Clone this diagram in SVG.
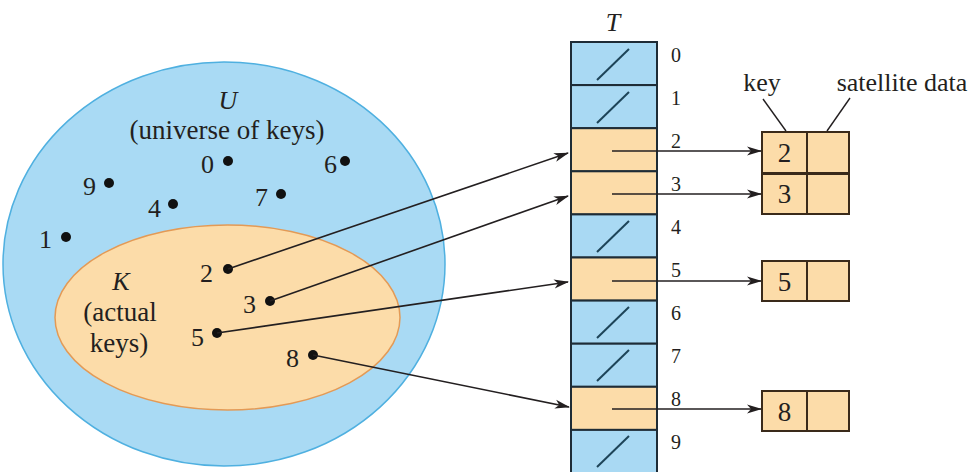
<svg xmlns="http://www.w3.org/2000/svg" width="977" height="472" viewBox="0 0 977 472">
<defs>
<style>
text{font-family:"Liberation Serif","Times New Roman",serif;fill:#231f20}
.lbl{font-size:26px}
.big{font-size:27px}
.it{font-style:italic}
.idx{font-size:20px}
.bd{font-size:27px}
.dot{fill:#111}
.cellB{fill:#a9d9f3;stroke:#1e2c36;stroke-width:2}
.cellO{fill:#fcdca9;stroke:#1e2c36;stroke-width:2}
.slash{stroke:#1d4458;stroke-width:2}
.box{fill:#fcdca9;stroke:#3a2a1a;stroke-width:2}
.ptr{stroke:#231f20;stroke-width:1.6;fill:none}
.lead{stroke:#231f20;stroke-width:1.4;fill:none}
</style>
<marker id="ah" markerWidth="16" markerHeight="10" refX="14" refY="5" orient="auto" markerUnits="userSpaceOnUse">
<path d="M0,0.5 L15,5 L0,9.5 L4,5 Z" fill="#231f20"/>
</marker>
</defs>
<rect width="977" height="472" fill="#fff"/>

<g id="universe">
<ellipse cx="224" cy="264" rx="221" ry="202" fill="#a9daf4" stroke="#4fb0e0" stroke-width="1.5"/>
<text class="lbl it" x="228" y="109" text-anchor="middle">U</text>
<text class="big" x="227" y="139" text-anchor="middle">(universe of keys)</text>
</g>
<g id="actual-keys">
<ellipse cx="227.5" cy="317.5" rx="172.5" ry="92.5" fill="#fcdca9" stroke="#e39a56" stroke-width="1.5"/>
<text class="lbl it" x="121" y="290" text-anchor="middle">K</text>
<text class="big" x="120" y="321" text-anchor="middle">(actual</text>
<text class="big" x="119" y="352" text-anchor="middle">keys)</text>
</g>

<g id="key-0"><circle class="dot" cx="228" cy="161" r="5"/><text class="lbl" x="214" y="173" text-anchor="end">0</text></g>
<g id="key-6"><circle class="dot" cx="345" cy="161" r="5"/><text class="lbl" x="337" y="173" text-anchor="end">6</text></g>
<g id="key-9"><circle class="dot" cx="109" cy="183" r="5"/><text class="lbl" x="96" y="195" text-anchor="end">9</text></g>
<g id="key-7"><circle class="dot" cx="281" cy="194" r="5"/><text class="lbl" x="268" y="206" text-anchor="end">7</text></g>
<g id="key-4"><circle class="dot" cx="173" cy="204" r="5"/><text class="lbl" x="161" y="217" text-anchor="end">4</text></g>
<g id="key-1"><circle class="dot" cx="66" cy="237" r="5"/><text class="lbl" x="52" y="248" text-anchor="end">1</text></g>
<g id="key-2"><circle class="dot" cx="228" cy="269" r="5"/><text class="lbl" x="213" y="282" text-anchor="end">2</text></g>
<g id="key-3"><circle class="dot" cx="270" cy="301" r="5"/><text class="lbl" x="256" y="313" text-anchor="end">3</text></g>
<g id="key-5"><circle class="dot" cx="217" cy="333" r="5"/><text class="lbl" x="204" y="346" text-anchor="end">5</text></g>
<g id="key-8"><circle class="dot" cx="313" cy="355" r="5"/><text class="lbl" x="299" y="367" text-anchor="end">8</text></g>

<g id="table-T">
<text class="lbl it" x="613" y="31" text-anchor="middle">T</text>
<g id="slot-0"><rect class="cellB" x="571" y="42" width="86" height="43.1"/><line class="slash" x1="597" y1="80" x2="629" y2="49"/><text class="idx" x="671" y="62">0</text></g>
<g id="slot-1"><rect class="cellB" x="571" y="85.1" width="86" height="43.1"/><line class="slash" x1="597" y1="123" x2="629" y2="92"/><text class="idx" x="671" y="105">1</text></g>
<g id="slot-2"><rect class="cellO" x="571" y="128.2" width="86" height="43.1"/><text class="idx" x="671" y="148">2</text></g>
<g id="slot-3"><rect class="cellO" x="571" y="171.3" width="86" height="43.1"/><text class="idx" x="671" y="191">3</text></g>
<g id="slot-4"><rect class="cellB" x="571" y="214.4" width="86" height="43.1"/><line class="slash" x1="597" y1="252" x2="629" y2="221"/><text class="idx" x="671" y="234">4</text></g>
<g id="slot-5"><rect class="cellO" x="571" y="257.5" width="86" height="43.1"/><text class="idx" x="671" y="277">5</text></g>
<g id="slot-6"><rect class="cellB" x="571" y="300.6" width="86" height="43.1"/><line class="slash" x1="597" y1="338" x2="629" y2="307"/><text class="idx" x="671" y="320">6</text></g>
<g id="slot-7"><rect class="cellB" x="571" y="343.7" width="86" height="43.1"/><line class="slash" x1="597" y1="381" x2="629" y2="350"/><text class="idx" x="671" y="363">7</text></g>
<g id="slot-8"><rect class="cellO" x="571" y="386.8" width="86" height="43.1"/><text class="idx" x="671" y="406">8</text></g>
<g id="slot-9"><rect class="cellB" x="571" y="429.9" width="86" height="43.1"/><line class="slash" x1="597" y1="467" x2="629" y2="436"/><text class="idx" x="671" y="449">9</text></g>
</g>

<g id="record-2"><rect class="box" x="762" y="132" width="45" height="41"/><rect class="box" x="807" y="132" width="42" height="41"/><text class="bd" x="784.5" y="162" text-anchor="middle">2</text></g>
<g id="record-3"><rect class="box" x="762" y="174" width="45" height="40"/><rect class="box" x="807" y="174" width="42" height="40"/><text class="bd" x="784.5" y="203" text-anchor="middle">3</text></g>
<g id="record-5"><rect class="box" x="762" y="261" width="45" height="40"/><rect class="box" x="807" y="261" width="42" height="40"/><text class="bd" x="784.5" y="291" text-anchor="middle">5</text></g>
<g id="record-8"><rect class="box" x="762" y="391" width="45" height="40"/><rect class="box" x="807" y="391" width="42" height="40"/><text class="bd" x="784.5" y="421" text-anchor="middle">8</text></g>

<g id="legend">
<text class="lbl" x="762" y="91" text-anchor="middle">key</text>
<text class="lbl" x="902" y="91" text-anchor="middle">satellite data</text>
</g>

<g id="connectors">
<line class="lead" x1="763" y1="99" x2="786" y2="131"/>
<line class="lead" x1="850" y1="98" x2="827" y2="131"/>
<line class="ptr" x1="228" y1="269" x2="568" y2="153" marker-end="url(#ah)"/>
<line class="ptr" x1="270" y1="301" x2="568" y2="196" marker-end="url(#ah)"/>
<line class="ptr" x1="217" y1="333" x2="568" y2="282" marker-end="url(#ah)"/>
<line class="ptr" x1="313" y1="355" x2="569" y2="407" marker-end="url(#ah)"/>
<line class="ptr" x1="612" y1="151" x2="761" y2="151" marker-end="url(#ah)"/>
<line class="ptr" x1="612" y1="194" x2="761" y2="194" marker-end="url(#ah)"/>
<line class="ptr" x1="612" y1="281" x2="761" y2="281" marker-end="url(#ah)"/>
<line class="ptr" x1="612" y1="409" x2="761" y2="409" marker-end="url(#ah)"/>
</g>
</svg>
